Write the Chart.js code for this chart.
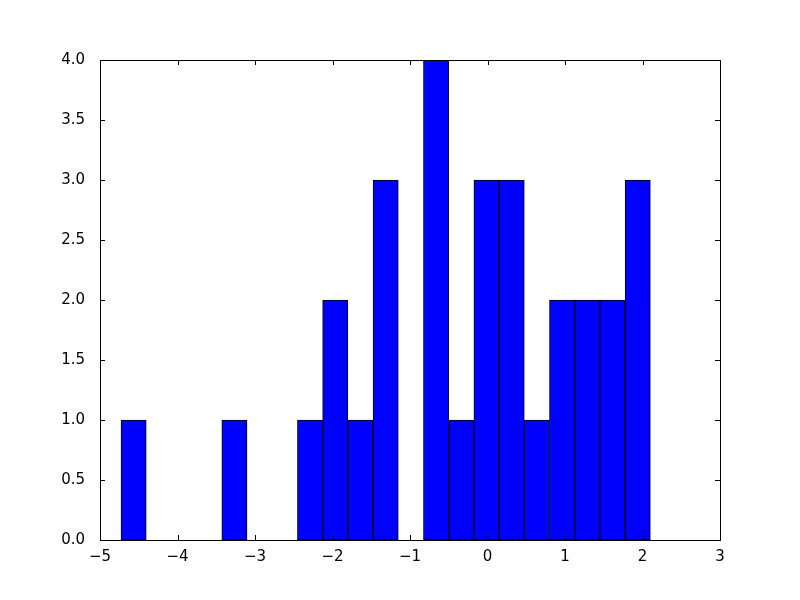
<!DOCTYPE html>
<html>
<head>
<meta charset="utf-8">
<script src="https://cdn.jsdelivr.net/npm/chart.js@4/dist/chart.umd.min.js"></script>
<style>
html,body{margin:0;padding:0;background:#fff;}
#wrap{width:800px;height:600px;}
</style>
</head>
<body>
<div id="wrap"><canvas id="c" width="800" height="600"></canvas></div>
<script>
// Histogram bin edges (21 equal bins) and counts
const binStart = -4.729;
const binEnd = 2.101;
const counts = [1, 0, 0, 0, 1, 0, 0, 1, 2, 1, 3, 0, 4, 1, 3, 3, 1, 2, 2, 2, 3];
const xTicks = [-5, -4, -3, -2, -1, 0, 1, 2, 3];
const yTicks = [0, 0.5, 1, 1.5, 2, 2.5, 3, 3.5, 4];

const binWidth = (binEnd - binStart) / counts.length;
const centers = counts.map((_, i) => binStart + binWidth * (i + 0.5));
const points = counts.map((c, i) => ({x: centers[i], y: c}));

const fmtMinus = v => String(v).replace('-', '\u2212');

const innerTicks = {
  id: 'innerTicks',
  afterDraw(chart) {
    const {ctx, chartArea: a, scales} = chart;
    const L = 5;
    ctx.save();
    ctx.strokeStyle = '#000';
    ctx.lineWidth = 1;
    ctx.beginPath();
    xTicks.forEach(v => {
      const px = Math.round(scales.x.getPixelForValue(v)) + 0.5;
      ctx.moveTo(px, a.bottom); ctx.lineTo(px, a.bottom - L);
      ctx.moveTo(px, a.top); ctx.lineTo(px, a.top + L);
    });
    yTicks.forEach(v => {
      const py = Math.round(scales.y.getPixelForValue(v)) + 0.5;
      ctx.moveTo(a.left, py); ctx.lineTo(a.left + L, py);
      ctx.moveTo(a.right, py); ctx.lineTo(a.right - L, py);
    });
    ctx.stroke();
    ctx.lineWidth = 1;
    ctx.strokeRect(a.left + 0.5, a.top + 0.5, a.right - a.left, a.bottom - a.top);
    ctx.restore();
  }
};

new Chart(document.getElementById('c'), {
  type: 'bar',
  data: {
    datasets: [{
      data: points,
      backgroundColor: '#0000ff',
      borderColor: '#000000',
      borderWidth: 1,
      borderSkipped: false,
      barPercentage: 1.0,
      categoryPercentage: 1.0
    }]
  },
  options: {
    responsive: false,
    animation: false,
    devicePixelRatio: 1,
    layout: {padding: {left: 0, right: 80, top: 60, bottom: 0}},
    plugins: {legend: {display: false}, tooltip: {enabled: false}},
    scales: {
      x: {
        type: 'linear',
        offset: false,
        min: -5, max: 3,
        afterFit(s) { s.height = 60; },
        afterBuildTicks(s) { s.ticks = xTicks.map(v => ({value: v})); },
        grid: {display: false, offset: false},
        border: {display: true, color: '#000'},
        ticks: {
          color: '#000', padding: 0,
          font: {family: 'DejaVu Sans', size: 15},
          maxRotation: 0, autoSkip: false,
          callback: v => fmtMinus(v)
        }
      },
      y: {
        min: 0, max: 4,
        afterFit(s) { s.width = 100; },
        afterBuildTicks(s) { s.ticks = yTicks.map(v => ({value: v})); },
        grid: {display: false},
        border: {display: true, color: '#000'},
        ticks: {
          color: '#000', padding: 7,
          font: {family: 'DejaVu Sans', size: 15},
          autoSkip: false,
          callback: v => Number(v).toFixed(1)
        }
      }
    }
  },
  plugins: [innerTicks]
});
</script>
</body>
</html>
